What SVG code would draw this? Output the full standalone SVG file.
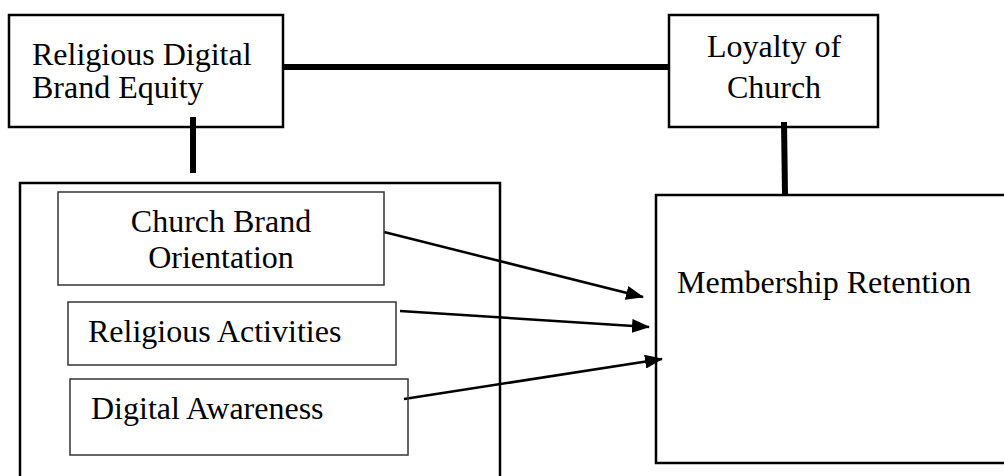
<svg xmlns="http://www.w3.org/2000/svg" width="1004" height="476" viewBox="0 0 1004 476">
<style>
text{font-family:"Liberation Serif","Times New Roman",serif;font-size:32px;fill:#000}
.outer{fill:none;stroke:#000;stroke-width:2.5}
.inner{fill:none;stroke:#333;stroke-width:1.5}
.thick{stroke:#000;stroke-width:6;fill:none}
.arrow{stroke:#000;stroke-width:2.5;fill:none;marker-end:url(#ah)}
</style>
<defs>
<marker id="ah" markerWidth="18" markerHeight="14" refX="17" refY="7" orient="auto" markerUnits="userSpaceOnUse">
<path d="M0,0 L18,7 L0,14 Z" fill="#000"/>
</marker>
</defs>
<rect width="1004" height="476" fill="#fff"/>
<g id="connectors">
<line class="thick" x1="283" y1="67" x2="669" y2="67"/>
<line class="thick" x1="193" y1="117" x2="193" y2="173"/>
<line class="thick" x1="784" y1="122" x2="785" y2="194"/>
<line class="arrow" x1="384" y1="232" x2="643" y2="297"/>
<line class="arrow" x1="400" y1="311" x2="649" y2="327"/>
<line class="arrow" x1="404" y1="399" x2="662" y2="359"/>
</g>
<g id="rdbe">
<rect class="outer" x="9" y="15" width="274" height="112"/>
<text x="32" y="65">Religious Digital</text>
<text x="32" y="98">Brand Equity</text>
</g>
<g id="loyalty">
<rect class="outer" x="669" y="15" width="209" height="112"/>
<text x="774" y="57" text-anchor="middle">Loyalty of</text>
<text x="774" y="98" text-anchor="middle">Church</text>
</g>
<g id="group">
<rect class="outer" x="20" y="183" width="480" height="320"/>
</g>
<g id="cbo">
<rect class="inner" x="58" y="192" width="326" height="93"/>
<text x="221" y="232" text-anchor="middle">Church Brand</text>
<text x="221" y="268" text-anchor="middle">Orientation</text>
</g>
<g id="ra">
<rect class="inner" x="68" y="302" width="328" height="63"/>
<text x="88" y="342">Religious Activities</text>
</g>
<g id="da">
<rect class="inner" x="70" y="379" width="338" height="76"/>
<text x="91" y="419">Digital Awareness</text>
</g>
<g id="mr">
<rect class="outer" x="656" y="195" width="360" height="268"/>
<text x="677" y="293">Membership Retention</text>
</g>
</svg>
